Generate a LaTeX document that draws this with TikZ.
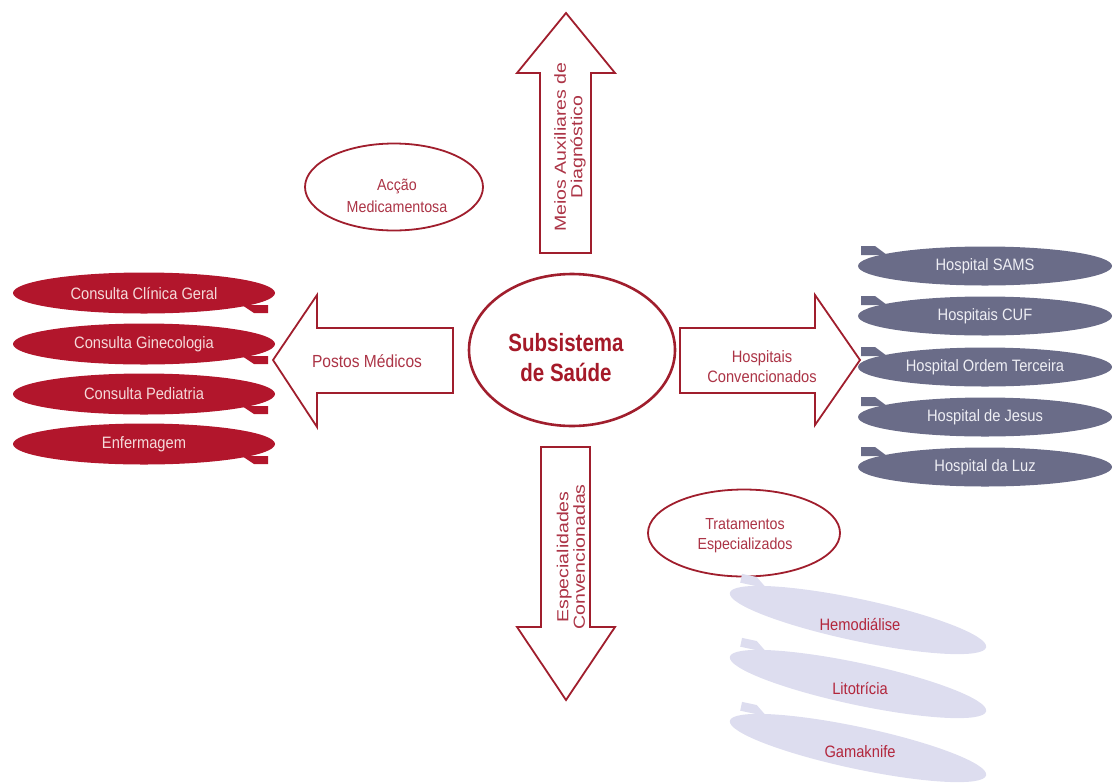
\documentclass[tikz,border=0pt]{standalone}
\usepackage{fontspec}
\setmainfont{Liberation Sans}
\newfontfamily\narrowf[FakeStretch=0.89]{Liberation Sans}
\newfontfamily\widef[FakeStretch=1.22]{Liberation Sans}
\newfontfamily\boldnarrowf[FakeStretch=0.82]{Liberation Sans}
\usetikzlibrary{shapes.geometric}
\definecolor{dred}{RGB}{160,30,45}
\definecolor{lblred}{RGB}{172,52,70}
\definecolor{redfill}{RGB}{178,22,44}
\definecolor{redtxt}{RGB}{245,218,218}
\definecolor{grayfill}{RGB}{106,108,136}
\definecolor{graytxt}{RGB}{238,238,244}
\definecolor{lavfill}{RGB}{221,221,239}
\definecolor{lavtxt}{RGB}{178,38,60}
\definecolor{ctrtxt}{RGB}{165,25,40}
\begin{document}
\begin{tikzpicture}[x=1pt,y=-1pt,
  blockarrow/.style={draw=dred, line width=1.8pt, fill=white, line join=miter},
  arrowlbl/.style={text=lblred, font=\narrowf\fontsize{16.5}{20}\selectfont, align=center, inner sep=0pt},
  vlbl/.style={text=lblred, font=\widef\fontsize{16}{16.5}\selectfont, align=center, inner sep=0pt, rotate=90},
  outell/.style={ellipse, draw=dred, line width=1.8pt, fill=white, inner sep=0pt},
  redell/.style={ellipse, fill=redfill, minimum width=262pt, minimum height=41pt, inner sep=0pt, text=redtxt, font=\narrowf\fontsize{16.5}{20}\selectfont},
  grayell/.style={ellipse, fill=grayfill, minimum width=254pt, minimum height=39pt, inner sep=0pt, text=graytxt, font=\narrowf\fontsize{16.5}{20}\selectfont},
  lavell/.style={ellipse, fill=lavfill, minimum width=262pt, minimum height=42pt, inner sep=0pt},
  lavlbl/.style={text=lavtxt, font=\narrowf\fontsize{16.5}{20}\selectfont, inner sep=0pt}
]
\useasboundingbox (0,0) rectangle (1115,782);

% block arrows
\draw[blockarrow] (566,13) -- (615,73) -- (591,73) -- (591,253) -- (540,253) -- (540,73) -- (517,73) -- cycle;
\draw[blockarrow] (541,447) -- (590,447) -- (590,627) -- (615,627) -- (566,700) -- (517,627) -- (541,627) -- cycle;
\draw[blockarrow] (273,360) -- (317,295) -- (317,328) -- (453,328) -- (453,393) -- (317,393) -- (317,427) -- cycle;
\draw[blockarrow] (680,328) -- (815,328) -- (815,295) -- (860,360) -- (815,425) -- (815,393) -- (680,393) -- cycle;

\node[vlbl] (meios) at (570,147) {Meios Auxiliares de\\Diagnóstico};
\node[vlbl] (espec) at (571,557) {Especialidades\\Convencionadas};
\node[arrowlbl, font=\narrowf\fontsize{17.5}{20}\selectfont] (postos) at (367,361) {Postos Médicos};
\node[arrowlbl] (hconv) at (762,367) {Hospitais\\Convencionados};

% centre
\node[outell, line width=2.6pt, minimum width=206pt, minimum height=152pt] (centre) at (572,350) {};
\node[text=ctrtxt, font=\boldnarrowf\bfseries\fontsize{25}{30}\selectfont, align=center, inner sep=0pt] (centretxt) at (566,358) {Subsistema\\de Saúde};

% side ellipses
\node[outell, minimum width=178pt, minimum height=87pt] (accao) at (394,187) {};
\node[arrowlbl, font=\narrowf\fontsize{16}{22}\selectfont] (accaotxt) at (397,196) {Acção\\Medicamentosa};
\node[outell, minimum width=192pt, minimum height=87pt] (trat) at (744,533) {};
\node[arrowlbl, font=\narrowf\fontsize{16}{20}\selectfont] (trattxt) at (745,536) {Tratamentos\\Especializados};

% red list
\foreach \n/\yy/\t in {cg/293/Consulta Clínica Geral, gin/344/Consulta Ginecologia, ped/394/Consulta Pediatria, enf/444/Enfermagem}{
  \fill[redfill] (242,{\yy+12}) -- (268,{\yy+12}) -- (268,{\yy+20}) -- (254,{\yy+20}) -- cycle;
  \node[redell] (\n) at (144,\yy) {\t};
}

% gray list
\foreach \n/\yy/\t in {sams/266/Hospital SAMS, cuf/316/Hospitais CUF, ordem/367/Hospital Ordem Terceira, jesus/417/Hospital de Jesus, luz/467/Hospital da Luz}{
  \fill[grayfill] (887,{\yy-11}) -- (861,{\yy-11}) -- (861,{\yy-20}) -- (875,{\yy-20}) -- cycle;
  \node[grayell] (\n) at (985,\yy) {\t};
}

% lavender list
\foreach \n/\yy/\t in {hemo/620/Hemodiálise, lito/684/Litotrícia, gama/748/Gamaknife}{
  \begin{scope}[shift={(858,\yy)}, rotate=-12]
    \fill[lavfill] (-96,-12) -- (-123,-12) -- (-123,-21) -- (-108,-21) -- cycle;
  \end{scope}
  \node[lavell, rotate=-12] (\n) at (858,\yy) {};
  \node[lavlbl] (\n txt) at (860,{\yy+4}) {\t};
}
\end{tikzpicture}
\end{document}
